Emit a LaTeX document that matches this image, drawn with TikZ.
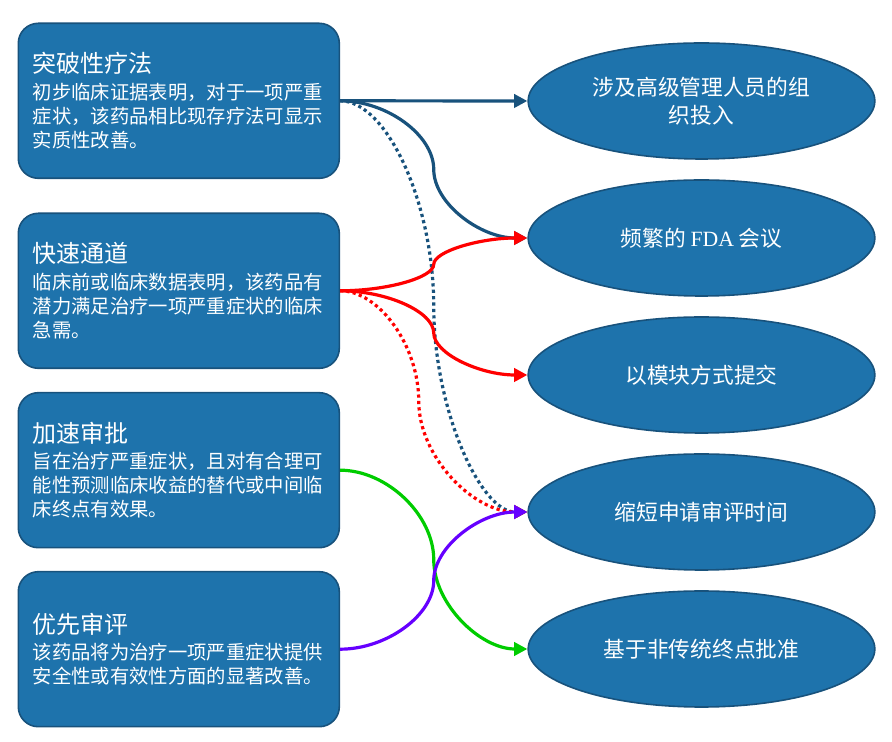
\documentclass[tikz,border=0pt]{standalone}
\usepackage{fontspec}
\setmainfont{Noto Sans CJK SC}
\newfontfamily\romanlat{Liberation Serif}
\usetikzlibrary{arrows.meta, shapes.geometric, calc}
\definecolor{boxblue}{RGB}{30,115,172}
\definecolor{edgeblue}{RGB}{24,82,124}
\definecolor{linkred}{RGB}{255,0,0}
\definecolor{linkgreen}{RGB}{0,204,0}
\definecolor{linkpurple}{RGB}{102,0,255}

\begin{document}
\begin{tikzpicture}[x=0.75pt, y=0.75pt,
    pathway/.style={draw=edgeblue, line width=1.2pt, fill=boxblue, rounded corners=15pt,
        minimum width=240.75pt, minimum height=116.25pt, text width=219pt, inner xsep=10.5pt,
        align=left, text=white, font=\fontsize{14.5}{18}\selectfont},
    benefit/.style={draw=edgeblue, line width=1.2pt, fill=boxblue, ellipse,
        minimum width=260pt, minimum height=87pt, inner sep=0pt, align=center,
        text=white, font=\fontsize{16.3}{21}\selectfont},
    link/.style={line width=2.4pt, -{Triangle[length=10pt, width=10pt]}},
    dots/.style={dash pattern=on 2.4pt off 2.4pt},
    sbend/.style={to path={let \p1=(\tikztostart), \p2=(\tikztotarget) in
        .. controls ({\x1+#1*(\x2-\x1)/2},\y1) and ({\x1+#1*(\x2-\x1)},{(3*\y1+\y2)/4})
        .. ({\x1+#1*(\x2-\x1)},{(\y1+\y2)/2})
        .. controls ({\x1+#1*(\x2-\x1)},{(\y1+3*\y2)/4}) and ({(\x1+#1*(\x2-\x1)+\x2)/2},\y2)
        .. (\tikztotarget)}},
    sbend/.default=0.5]
    \useasboundingbox (0,0) rectangle (892,742);

    % Pathways
    \node[pathway] (bt) at (178.8,641.2) {{\fontsize{18}{18}\selectfont 突破性疗法}\\[2pt]
        初步临床证据表明，对于一项严重\\ 症状，该药品相比现存疗法可显示\\ 实质性改善。};
    \node[pathway] (fast) at (178.8,451.2) {{\fontsize{18}{18}\selectfont 快速通道}\\[2pt]
        临床前或临床数据表明，该药品有\\ 潜力满足治疗一项严重症状的临床\\ 急需。};
    \node[pathway] (acc) at (178.8,271.8) {{\fontsize{18}{18}\selectfont 加速审批}\\[2pt]
        旨在治疗严重症状，且对有合理可\\ 能性预测临床收益的替代或中间临\\ 床终点有效果。};
    \node[pathway] (prio) at (178.8,92.8) {{\fontsize{18}{18}\selectfont 优先审评}\\[2pt]
        该药品将为治疗一项严重症状提供\\ 安全性或有效性方面的显著改善。};

    % Benefits
    \node[benefit] (mgmt) at (701.5,641) {涉及高级管理人员的组\\织投入};
    \node[benefit] (meet) at (701.5,504) {频繁的 {\romanlat FDA} 会议};
    \node[benefit] (roll) at (701.5,367) {以模块方式提交};
    \node[benefit] (short) at (701.5,230) {缩短申请审评时间};
    \node[benefit] (surr) at (701.5,93) {基于非传统终点批准};

    % Links
    \draw[link, edgeblue] (bt.east) -- (mgmt.west);
    \draw[link, edgeblue] (bt.east) to[sbend] (meet.west);
    \draw[link, edgeblue, dots] (bt.east) to[sbend] (short.west);
    \draw[link, linkred] (fast.east) to[sbend] (meet.west);
    \draw[link, linkred] (fast.east) to[sbend] (roll.west);
    \draw[link, linkred, dots] (fast.east) to[sbend=0.42] (short.west);
    \draw[link, linkgreen] (acc.east) to[sbend] (surr.west);
    \draw[link, linkpurple] (prio.east) to[sbend] (short.west);
\end{tikzpicture}
\end{document}
